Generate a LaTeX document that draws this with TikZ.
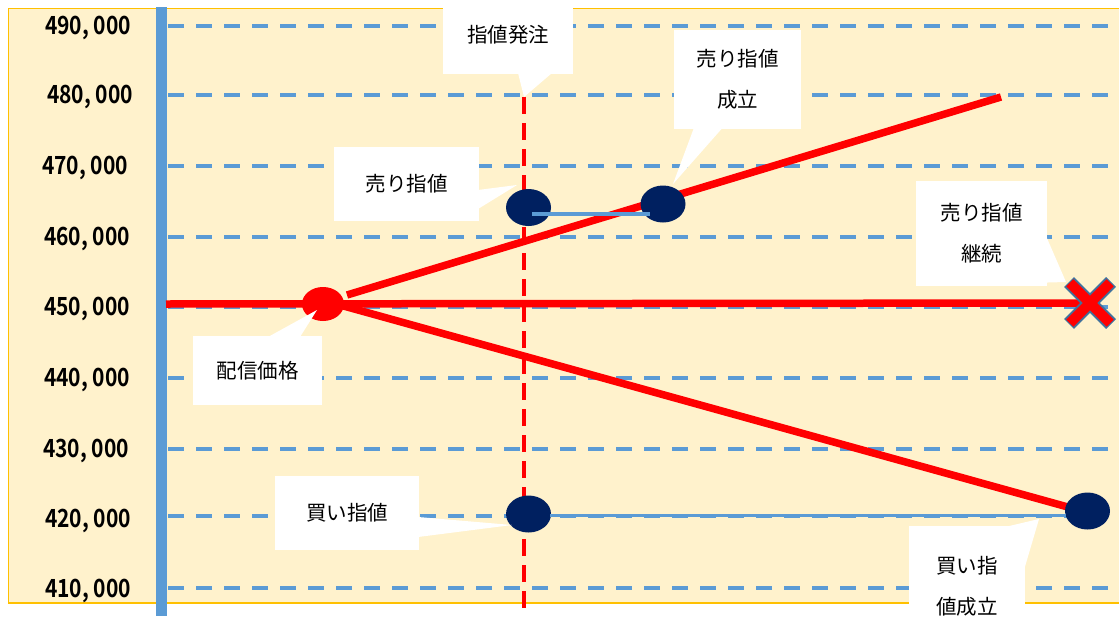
\documentclass[tikz,border=0pt]{standalone}
\usepackage{fontspec}
\usetikzlibrary{shapes.geometric,calc}
\newfontfamily\jp{Noto Sans CJK JP}
\newfontfamily\jpnum{Noto Sans CJK JP Bold}[FakeStretch=0.84]
\definecolor{bgc}{HTML}{FFF2CC}
\definecolor{bordc}{HTML}{FFC000}
\definecolor{gridc}{HTML}{5B9BD5}
\definecolor{navy}{HTML}{002060}
\definecolor{xout}{HTML}{41719C}
\tikzset{
  gridln/.style={gridc, line width=4pt, dash pattern=on 16pt off 12pt},
  ylab/.style={font=\jpnum\fontsize{25}{25}\selectfont, inner sep=0pt, anchor=center},
  redln/.style={red, line width=7.5pt},
  dot/.style={ellipse, fill=navy, draw=none, minimum width=45pt, minimum height=37pt, inner sep=0pt},
  link/.style={gridc, line width=3.5pt},
  callbox/.style={fill=white, draw=none, inner sep=0pt, align=center,
     font=\jp\fontsize{20.5}{41}\selectfont},
  wedge/.style={fill=white, draw=none}
}
\begin{document}
\begin{tikzpicture}[x=1pt,y=-1pt]
\useasboundingbox (0,0) rectangle (1119,616);
% background
\draw[bordc, line width=1.5pt, fill=bgc] (8.5,8.5) rectangle (1130,603);
% grid lines
\foreach \yy in {26,95,166,237,307,378,449,516,588}{
  \draw[gridln] (168,\yy) -- (1119,\yy);
}
% axis labels
\node[ylab] (l490) at (88,28) {490, 000};
\node[ylab] (l480) at (90,97) {480, 000};
\node[ylab] (l470) at (85,168) {470, 000};
\node[ylab] (l460) at (87,239) {460, 000};
\node[ylab] (l450) at (87,309) {450, 000};
\node[ylab] (l440) at (87,380) {440, 000};
\node[ylab] (l430) at (86,451) {430, 000};
\node[ylab] (l420) at (88,521) {420, 000};
\node[ylab] (l410) at (88,591) {410, 000};
% axis bar
\coordinate (axT) at (161.5,7);
\coordinate (axB) at (161.5,616);
\draw[gridc, line width=11pt] (axT) -- (axB);
% price nodes
\node[ellipse, fill=red, minimum width=42pt, minimum height=34pt, inner sep=0pt] (start) at (323,304) {};
\coordinate (hl) at (166,304);
\coordinate (xmark) at (1090,303);
\coordinate (upA) at (347,295);
\coordinate (upB) at (1001,97);
\coordinate (dnA) at (340,305);
\coordinate (dnB) at (1075,509);
\draw[redln] (hl) -- (xmark);
\draw[redln] (upA) -- (upB);
\draw[redln] (dnA) -- (dnB);
% order time line
\coordinate (vtop) at (524,97);
\coordinate (vbot) at (524,616);
\draw[red, line width=3.5pt, dash pattern=on 17pt off 9pt] (vtop) -- (vbot);
% order dots
\node[dot] (sellO) at (528.5,207.5) {};
\node[dot] (sellF) at (663,204) {};
\node[dot] (buyO) at (528.5,514) {};
\node[dot] (buyF) at (1087.5,511) {};
\coordinate (s1) at (532,214);
\coordinate (s2) at (650,214);
\draw[link] (s1) -- (s2);
\coordinate (b1) at (550,515);
\coordinate (b2) at (1066,515);
\draw[link, line width=3pt] (b1) -- (b2);
% X mark
\coordinate (xa) at ($(xmark)+(-21,-21)$);
\coordinate (xb) at ($(xmark)+(21,21)$);
\coordinate (xc) at ($(xmark)+(-21,21)$);
\coordinate (xd) at ($(xmark)+(21,-21)$);
\draw[xout, line width=14pt] (xa) -- (xb);
\draw[xout, line width=14pt] (xc) -- (xd);
\draw[red, line width=10pt, shorten <=1.2pt, shorten >=1.2pt] (xa) -- (xb);
\draw[red, line width=10pt, shorten <=1.2pt, shorten >=1.2pt] (xc) -- (xd);
% callouts
\node[callbox, minimum width=130pt, minimum height=78pt] (cOrder) at (508,35) {指値発注};
\fill[wedge] (518,73) -- (vtop) -- (552,73) -- cycle;
\node[callbox, minimum width=127pt, minimum height=99pt] (cSellF) at (737.5,79) {売り指値\\成立};
\fill[wedge] (695,125) -- (673,184) -- (725,125) -- cycle;
\node[callbox, minimum width=145pt, minimum height=74pt] (cSellO) at (406.5,184) {売り指値};
\fill[wedge] (478,190) -- (517,185) -- (478,209) -- cycle;
\node[callbox, minimum width=131pt, minimum height=105pt] (cKeep) at (981.5,233) {売り指値\\継続};
\fill[wedge] (1046,236) -- (1066,282) -- (1030,283) -- cycle;
\node[callbox, minimum width=129pt, minimum height=69pt] (cStart) at (257.5,370.5) {配信価格};
\fill[wedge] (268,337) -- (317,310) -- (300,337) -- cycle;
\node[callbox, minimum width=144pt, minimum height=74pt] (cBuyO) at (347,513) {買い指値};
\fill[wedge] (418,517) -- (512,525) -- (418,537) -- cycle;
\node[callbox, minimum width=116pt, minimum height=120pt] (cBuyF) at (967,586) {買い指\\値成立};
\fill[wedge] (1005,527) -- (1039,519) -- (1024,570) -- cycle;
\end{tikzpicture}
\end{document}
